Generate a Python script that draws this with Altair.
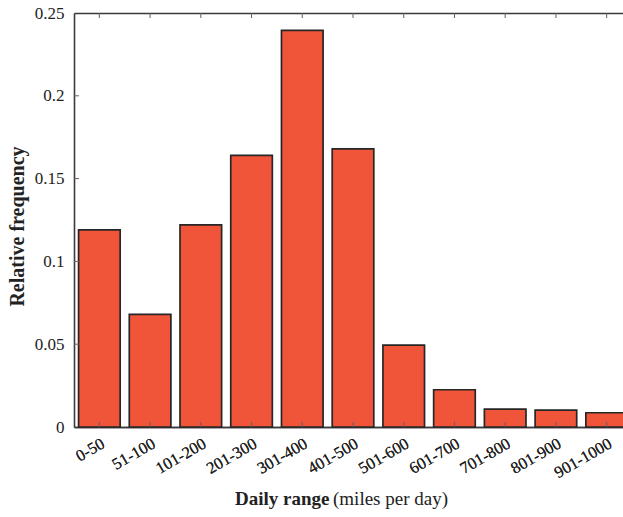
import altair as alt
import pandas as pd

categories = ["0-50", "51-100", "101-200", "201-300", "301-400", "401-500",
              "501-600", "601-700", "701-800", "801-900", "901-1000"]
frequencies = [0.119, 0.068, 0.122, 0.164, 0.2395, 0.168,
               0.0495, 0.0225, 0.0108, 0.0102, 0.0086]
y_ticks = [0, 0.05, 0.1, 0.15, 0.2, 0.25]

W, H = 549, 414
FONT = "Liberation Serif"
AX = "#3a3a3a"
TK = "#606060"

df = pd.DataFrame({"range": categories, "freq": frequencies})
tick_df = pd.DataFrame({"freq": y_ticks[1:-1]})

xscale = alt.Scale(domain=categories, range=[0, 558], paddingInner=0.18, paddingOuter=0.09)
yscale = alt.Scale(domain=[0, 0.25], nice=False, zero=True)

x_bottom = alt.X("range:N", sort=categories, scale=xscale,
                 axis=alt.Axis(title=None, orient="bottom", labelAngle=-30,
                               labelAlign="right", labelBaseline="top",
                               labelPadding=8, tickSize=0, labelFontSize=16.5,
                               labelFont=FONT, labelColor="#222",
                               domainColor=AX, domainWidth=1.6))
x_top = alt.X("range:N", sort=categories, scale=xscale,
              axis=alt.Axis(title=None, orient="top", labels=False, ticks=False,
                            domainColor=AX, domainWidth=1.6))

y_enc = alt.Y("freq:Q", scale=yscale,
              axis=alt.Axis(title="Relative frequency", values=y_ticks, format="~g",
                            tickSize=0, labelPadding=10, labelFontSize=17,
                            labelFont=FONT, labelColor="#222", grid=False,
                            domainColor=AX, domainWidth=1.6,
                            titleFont=FONT, titleFontSize=20, titleFontWeight="bold",
                            titleColor="#222", titlePadding=7, titleY=213))

bars = alt.Chart(df).mark_bar(fill="#F05539", stroke="#262626", strokeWidth=1.7).encode(
    x=x_bottom, y=y_enc)

bottom_ticks = alt.Chart(df).mark_rule(color=TK, strokeWidth=1).encode(
    x=x_bottom, y=alt.value(H), y2=alt.value(H - 5))

top_ticks = alt.Chart(df).mark_rule(color=TK, strokeWidth=1).encode(
    x=x_top, y=alt.value(0), y2=alt.value(5))

left_ticks = alt.Chart(tick_df).mark_rule(color=TK, strokeWidth=1).encode(
    y=alt.Y("freq:Q", scale=yscale), x=alt.value(0), x2=alt.value(5))

title_bold = alt.Chart(pd.DataFrame({"t": ["Daily range"]})).mark_text(
    font=FONT, fontSize=19, fontWeight="bold", align="left", baseline="alphabetic",
    color="#222").encode(text="t:N", x=alt.value(161), y=alt.value(492))

title_rest = alt.Chart(pd.DataFrame({"t": ["(miles per day)"]})).mark_text(
    font=FONT, fontSize=19, align="left", baseline="alphabetic",
    color="#222").encode(text="t:N", x=alt.value(259), y=alt.value(492))

chart = alt.layer(bars, bottom_ticks, top_ticks, left_ticks, title_bold, title_rest).resolve_axis(
    x="independent"
).properties(
    width=W, height=H,
    padding={"left": 74, "top": 13, "right": 0, "bottom": 90},
    autosize=alt.AutoSizeParams(type="none"),
    background="white",
).configure_view(stroke=None)

chart.save("out.html", embed_options={"renderer": "svg", "actions": False})
